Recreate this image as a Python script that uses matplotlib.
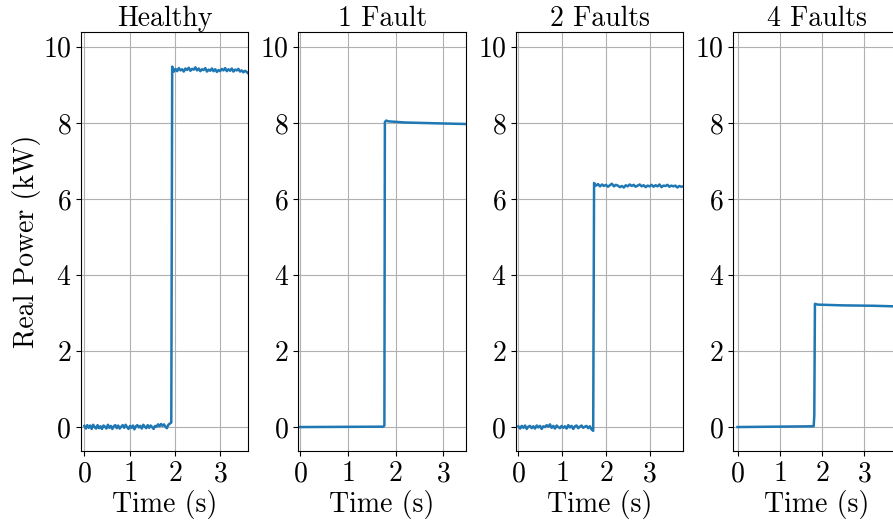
import matplotlib

matplotlib.use("Agg")
import matplotlib.pyplot as plt
import numpy as np

plt.rcParams["font.family"] = "cmr10"
plt.rcParams["mathtext.fontset"] = "cm"
plt.rcParams["axes.formatter.use_mathtext"] = True
plt.rcParams["font.size"] = 20

TITLES = ["Healthy", "1 Fault", "2 Faults", "4 Faults"]
XLIMS = [(-0.073, 3.62), (-0.034, 3.47), (-0.055, 3.77), (-0.095, 3.86)]
YLIM = (-0.63, 10.39)

# Healthy: noisy baseline, step at ~1.93 s, noisy plateau
healthy_pre = [0.03, -0.04, 0.05, -0.02, 0.04, -0.05, 0.06, 0.00, -0.04, 0.05,
               -0.03, 0.02, -0.05, 0.04, 0.01, -0.04, 0.06, -0.02, 0.03, -0.05,
               0.02, 0.05, -0.03, 0.04, -0.04, 0.01, 0.05, -0.02, 0.06, 0.00,
               -0.05, 0.03, -0.02, 0.04, -0.06, 0.02, 0.05, -0.01, 0.03, -0.04,
               0.06, 0.01, -0.03, 0.05, -0.02, 0.04, 0.00, -0.05, 0.03, 0.01,
               0.07, 0.02, 0.08, 0.03, 0.07, 0.01, -0.03, 0.06, 0.09, 0.12]
healthy_post = [9.48, 9.35, 9.42, 9.36, 9.44, 9.38, 9.41, 9.35, 9.43, 9.39, 9.45,
                9.37, 9.42, 9.40, 9.46, 9.38, 9.43, 9.36, 9.41, 9.39, 9.44,
                9.35, 9.40, 9.37, 9.43, 9.36, 9.41, 9.34, 9.39, 9.36, 9.42,
                9.38, 9.44, 9.36, 9.41, 9.37, 9.43, 9.35, 9.40, 9.38, 9.42,
                9.35, 9.38, 9.33, 9.37, 9.34, 9.30]

# 1 Fault: clean step at ~1.77 s
fault1_t = [0.0, 1.74, 1.765, 1.775, 1.80, 1.85, 2.2, 2.8, 3.47]
fault1_p = [0.0, 0.01, 0.04, 8.02, 8.06, 8.04, 8.01, 7.99, 7.97]

# 2 Faults: noisy baseline, step at ~1.72 s
fault2_pre = [0.02, -0.04, 0.03, -0.02, 0.04, -0.05, 0.01, 0.03, -0.03, 0.02,
              -0.04, 0.04, -0.01, 0.03, -0.05, 0.02, 0.00, 0.05, 0.01, 0.07,
              -0.02, 0.03, -0.04, 0.04, 0.00, -0.03, 0.03, -0.02, 0.02, -0.04,
              0.05, -0.01, 0.03, -0.05, 0.02, 0.04, -0.03, 0.01, 0.04, -0.02,
              0.01, 0.03, -0.03, 0.02, -0.06, -0.10]
fault2_post = [6.42, 6.35, 6.39, 6.33, 6.38, 6.34, 6.37, 6.32, 6.36, 6.40, 6.33,
               6.37, 6.35, 6.31, 6.34, 6.30, 6.36, 6.33, 6.38, 6.34, 6.37,
               6.32, 6.35, 6.38, 6.33, 6.36, 6.31, 6.35, 6.33, 6.37, 6.32,
               6.36, 6.33, 6.38, 6.31, 6.35, 6.34, 6.37, 6.32, 6.35, 6.33,
               6.35, 6.30, 6.34, 6.32, 6.33]

# 4 Faults: clean step at ~1.82 s
fault4_t = [0.0, 1.80, 1.815, 1.83, 1.90, 2.5, 3.2, 3.86]
fault4_p = [0.0, 0.02, 0.3, 3.24, 3.22, 3.20, 3.19, 3.17]


def _noisy(pre, t_pre, post, t_post):
    t = np.concatenate([np.linspace(*t_pre, len(pre)), np.linspace(*t_post, len(post))])
    return t, np.array(pre + post)


series = [
    _noisy(healthy_pre, (0.0, 1.92), healthy_post, (1.94, 3.62)),
    (np.array(fault1_t), np.array(fault1_p)),
    _noisy(fault2_pre, (0.0, 1.71), fault2_post, (1.73, 3.77)),
    (np.array(fault4_t), np.array(fault4_p)),
]

fig, axes = plt.subplots(1, 4, figsize=(8.93, 5.22), dpi=100)
fig.subplots_adjust(left=81 / 893, right=900.8 / 893, bottom=1 - 451 / 522,
                    top=1 - 32 / 522, wspace=0.30)

for ax, (t, p), title, xl in zip(axes, series, TITLES, XLIMS):
    ax.plot(t, p, color="#1f77b4", linewidth=1.8)
    ax.set_xlim(*xl)
    ax.set_ylim(*YLIM)
    ax.set_xticks([0, 1, 2, 3])
    ax.set_yticks([0, 2, 4, 6, 8, 10])
    ax.set_title(title, fontsize=20, pad=4)
    ax.set_xlabel("Time (s)", labelpad=2)
    ax.grid(True)

axes[0].set_ylabel("Real Power (kW)", labelpad=1)

fig.savefig("out.png", dpi=100)
